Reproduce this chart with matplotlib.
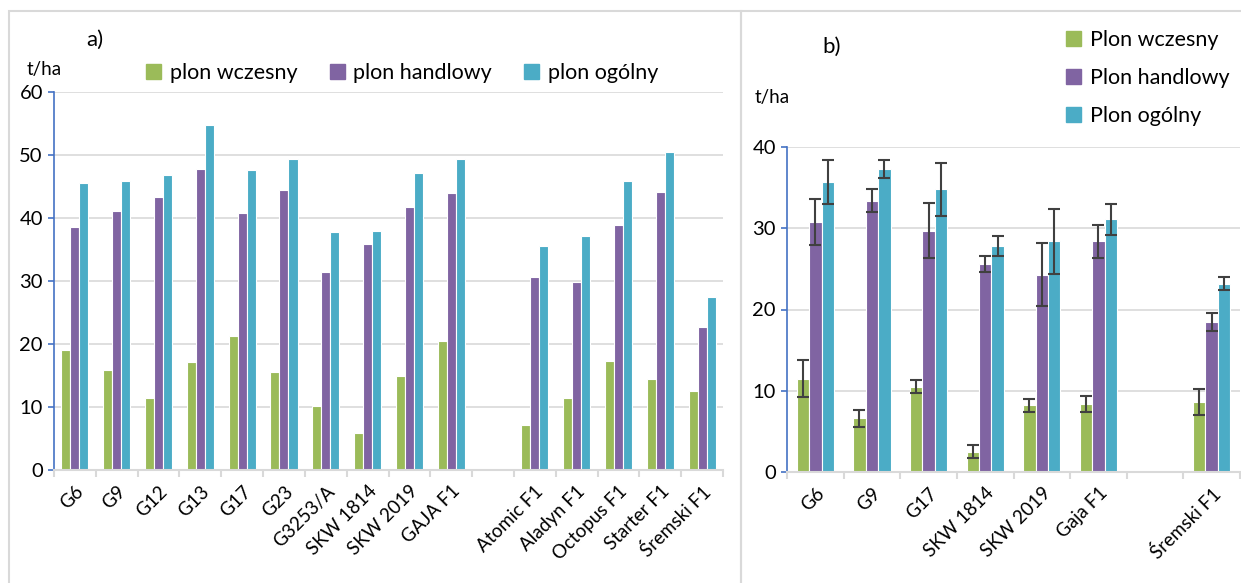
import numpy as np
import matplotlib
matplotlib.use("Agg")
import matplotlib.pyplot as plt
from matplotlib.patches import Patch, Rectangle

plt.rcParams['font.family'] = ['Lato', 'DejaVu Sans']

# ---- panel a) data ----
cats_a = ["G6", "G9", "G12", "G13", "G17", "G23", "G3253/A", "SKW 1814", "SKW 2019",
          "GAJA F1", "", "Atomic F1", "Aladyn F1", "Octopus F1", "Starter F1", "Śremski F1"]
early_a = [19.0, 15.8, 11.4, 17.2, 21.2, 15.5, 10.2, 5.8, 15.0, 20.4,
           np.nan, 7.1, 11.4, 17.3, 14.4, 12.5]
market_a = [38.5, 41.1, 43.3, 47.7, 40.8, 44.5, 31.4, 35.9, 41.8, 44.0,
            np.nan, 30.7, 29.8, 38.9, 44.2, 22.7]
total_a = [45.5, 45.8, 46.9, 54.7, 47.6, 49.3, 37.8, 37.9, 47.1, 49.3,
           np.nan, 35.5, 37.2, 45.9, 50.4, 27.4]
labels_a = ["plon wczesny", "plon handlowy", "plon ogólny"]

# ---- panel b) data ----
cats_b = ["G6", "G9", "G17", "SKW 1814", "SKW 2019", "Gaja F1", "", "Śremski F1"]
early_b = [11.5, 6.6, 10.5, 2.5, 8.2, 8.4, np.nan, 8.6]
early_b_err = [2.3, 1.0, 0.8, 0.8, 0.8, 1.0, np.nan, 1.6]
market_b = [30.8, 33.4, 29.7, 25.6, 24.3, 28.4, np.nan, 18.5]
market_b_err = [2.8, 1.4, 3.35, 1.0, 3.9, 2.0, np.nan, 1.1]
total_b = [35.7, 37.3, 34.8, 27.8, 28.4, 31.1, np.nan, 23.2]
total_b_err = [2.7, 1.15, 3.25, 1.25, 4.0, 1.9, np.nan, 0.85]
labels_b = ["Plon wczesny", "Plon handlowy", "Plon ogólny"]

colors = ["#9BBB59", "#8064A2", "#4BACC6"]
grid_c = "#D9D9D9"
axis_blue = "#4472C4"

fig = plt.figure(figsize=(12.41, 5.83), dpi=100)

# panel frames
W, H = 1241, 583
fig.patches.append(Rectangle((9 / W, -0.01), (741 - 9) / W, (H - 11) / H + 0.01,
                             transform=fig.transFigure, fill=False, ec=grid_c, lw=1.5))
fig.patches.append(Rectangle((741 / W, -0.01), (W - 741) / W + 0.01, (H - 11) / H + 0.01,
                             transform=fig.transFigure, fill=False, ec=grid_c, lw=1.5))


def style_axes(ax, n, ymax, step):
    ax.set_xlim(-0.5, n - 0.5)
    ax.set_ylim(0, ymax)
    ax.set_yticks(np.arange(0, ymax + 1, step))
    ax.yaxis.grid(True, color=grid_c, lw=1.2)
    ax.set_axisbelow(True)
    for s in ["top", "right"]:
        ax.spines[s].set_visible(False)
    ax.spines["left"].set_color(axis_blue)
    ax.spines["left"].set_linewidth(1.2)
    ax.spines["bottom"].set_color(grid_c)
    ax.spines["bottom"].set_linewidth(1.5)
    ax.tick_params(axis="y", colors=axis_blue, labelcolor="black", labelsize=14.5, length=4,
                   width=1.2, pad=4)
    ax.set_xticks(np.arange(n))
    ax.set_xticks(np.arange(-0.5, n, 1), minor=True)
    ax.tick_params(axis="x", which="major", length=0, labelsize=13.5, pad=9)
    ax.tick_params(axis="x", which="minor", length=5, width=1.5, color=grid_c)


# ---- panel a ----
ax1 = fig.add_axes([54 / W, 1 - 470 / H, (723 - 54) / W, (470 - 92) / H])
x = np.arange(len(cats_a))
w = 0.216
for i, vals in enumerate([early_a, market_a, total_a]):
    ax1.bar(x + (i - 1) * w, vals, w, color=colors[i], edgecolor="white", linewidth=0.8)
style_axes(ax1, len(cats_a), 60, 10)
ax1.set_xticklabels(cats_a, rotation=45, ha="right", rotation_mode="anchor")
fig.text(86 / W, 1 - 40 / H, "a)", fontsize=16, va="center")
fig.text(27 / W, 1 - 70 / H, "t/ha", fontsize=13.5, va="center")
handles = [Patch(color=c) for c in colors]
fig.legend(handles, labels_a, loc="center left", bbox_to_anchor=(146 / W, 1 - 73 / H),
           ncol=3, frameon=False, fontsize=15.5, handlelength=0.7, handleheight=0.7,
           handletextpad=0.4, columnspacing=1.5, borderaxespad=0, borderpad=0)

# ---- panel b ----
ax2 = fig.add_axes([787 / W, 1 - 472 / H, (1240 - 787) / W, (472 - 147) / H])
x = np.arange(len(cats_b))
w = 0.22
for i, (vals, err) in enumerate([(early_b, early_b_err), (market_b, market_b_err),
                                 (total_b, total_b_err)]):
    ax2.bar(x + (i - 1) * w, vals, w, color=colors[i], edgecolor="white", linewidth=0.8,
            yerr=err, error_kw=dict(ecolor="#404040", elinewidth=1.5, capsize=4.5, capthick=1.5))
style_axes(ax2, len(cats_b), 40, 10)
ax2.set_xticklabels(cats_b, rotation=45, ha="right", rotation_mode="anchor")
fig.text(822 / W, 1 - 47 / H, "b)", fontsize=16, va="center")
fig.text(755 / W, 1 - 98 / H, "t/ha", fontsize=13.5, va="center")
fig.legend(handles, labels_b, loc="center left", bbox_to_anchor=(1066 / W, 1 - 78 / H),
           ncol=1, frameon=False, fontsize=15.5, handlelength=0.7, handleheight=0.7,
           handletextpad=0.4, labelspacing=0.85, borderaxespad=0, borderpad=0)

fig.savefig("out.png", dpi=100)
